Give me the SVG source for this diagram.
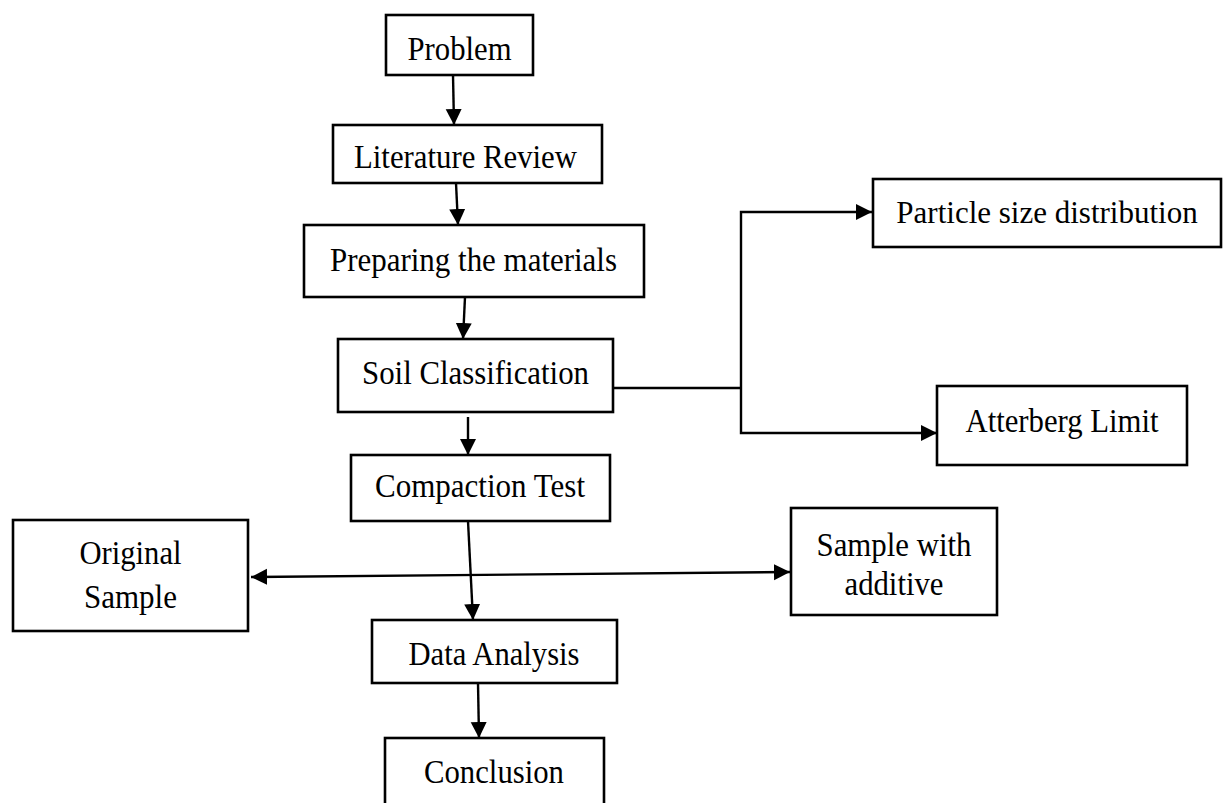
<svg xmlns="http://www.w3.org/2000/svg" width="1225" height="803" viewBox="0 0 1225 803">
<style>
.box{fill:#fff;stroke:#000;stroke-width:2.6}
.lbl{font-family:"Liberation Serif","Times New Roman",serif;font-size:34px;fill:#000;text-anchor:middle}
.con{fill:none;stroke:#000;stroke-width:2.4}
</style>
<defs>
<marker id="ah" markerUnits="userSpaceOnUse" markerWidth="17" markerHeight="17" refX="16" refY="8" orient="auto-start-reverse" viewBox="0 0 17 16">
<path d="M0,0 L16,8 L0,16 z" fill="#000"/>
</marker>
</defs>
<rect width="1225" height="803" fill="#fff"/>
<g id="connectors">
<line class="con" x1="453" y1="75" x2="454" y2="125" marker-end="url(#ah)"/>
<line class="con" x1="456" y1="183" x2="458" y2="225" marker-end="url(#ah)"/>
<line class="con" x1="465" y1="297" x2="463" y2="339" marker-end="url(#ah)"/>
<line class="con" x1="468" y1="417" x2="468" y2="455" marker-end="url(#ah)"/>
<polyline class="con" points="612,388 741,388"/>
<polyline class="con" points="741,388 741,212 872,212" marker-end="url(#ah)"/>
<polyline class="con" points="741,388 741,433 937,433" marker-end="url(#ah)"/>
<line class="con" x1="468" y1="521" x2="473" y2="620" marker-end="url(#ah)"/>
<line class="con" x1="251" y1="577" x2="790" y2="572" marker-start="url(#ah)" marker-end="url(#ah)"/>
<line class="con" x1="478" y1="683" x2="479" y2="738" marker-end="url(#ah)"/>
</g>
<g id="problem"><rect class="box" x="386" y="15" width="147" height="60"/><text class="lbl" x="459.5" y="60" textLength="104" lengthAdjust="spacingAndGlyphs">Problem</text></g>
<g id="literature"><rect class="box" x="333" y="125" width="269" height="58"/><text class="lbl" x="465.5" y="168" textLength="223" lengthAdjust="spacingAndGlyphs">Literature Review</text></g>
<g id="preparing"><rect class="box" x="304" y="225" width="340" height="72"/><text class="lbl" x="473.5" y="271" textLength="287" lengthAdjust="spacingAndGlyphs">Preparing the materials</text></g>
<g id="soil"><rect class="box" x="338" y="339" width="275" height="73"/><text class="lbl" x="475.5" y="384" textLength="227" lengthAdjust="spacingAndGlyphs">Soil Classification</text></g>
<g id="compaction"><rect class="box" x="351" y="455" width="259" height="66"/><text class="lbl" x="480" y="497" textLength="210" lengthAdjust="spacingAndGlyphs">Compaction Test</text></g>
<g id="particle"><rect class="box" x="873" y="179" width="348" height="68"/><text class="lbl" x="1047" y="223" style="font-size:31px">Particle size distribution</text></g>
<g id="atterberg"><rect class="box" x="937" y="386" width="250" height="79"/><text class="lbl" x="1062" y="432" textLength="193" lengthAdjust="spacingAndGlyphs">Atterberg Limit</text></g>
<g id="original"><rect class="box" x="13" y="520" width="235" height="111"/><text class="lbl" x="130.5" y="564" textLength="102" lengthAdjust="spacingAndGlyphs">Original</text><text class="lbl" x="130.5" y="608" textLength="93" lengthAdjust="spacingAndGlyphs">Sample</text></g>
<g id="additive"><rect class="box" x="791" y="508" width="206" height="107"/><text class="lbl" x="894" y="556" textLength="155" lengthAdjust="spacingAndGlyphs">Sample with</text><text class="lbl" x="894" y="595" textLength="99" lengthAdjust="spacingAndGlyphs">additive</text></g>
<g id="data"><rect class="box" x="372" y="620" width="245" height="63"/><text class="lbl" x="494" y="665" textLength="171" lengthAdjust="spacingAndGlyphs">Data Analysis</text></g>
<g id="conclusion"><rect class="box" x="385" y="738" width="219" height="90"/><text class="lbl" x="494" y="783" textLength="140" lengthAdjust="spacingAndGlyphs">Conclusion</text></g>
</svg>
